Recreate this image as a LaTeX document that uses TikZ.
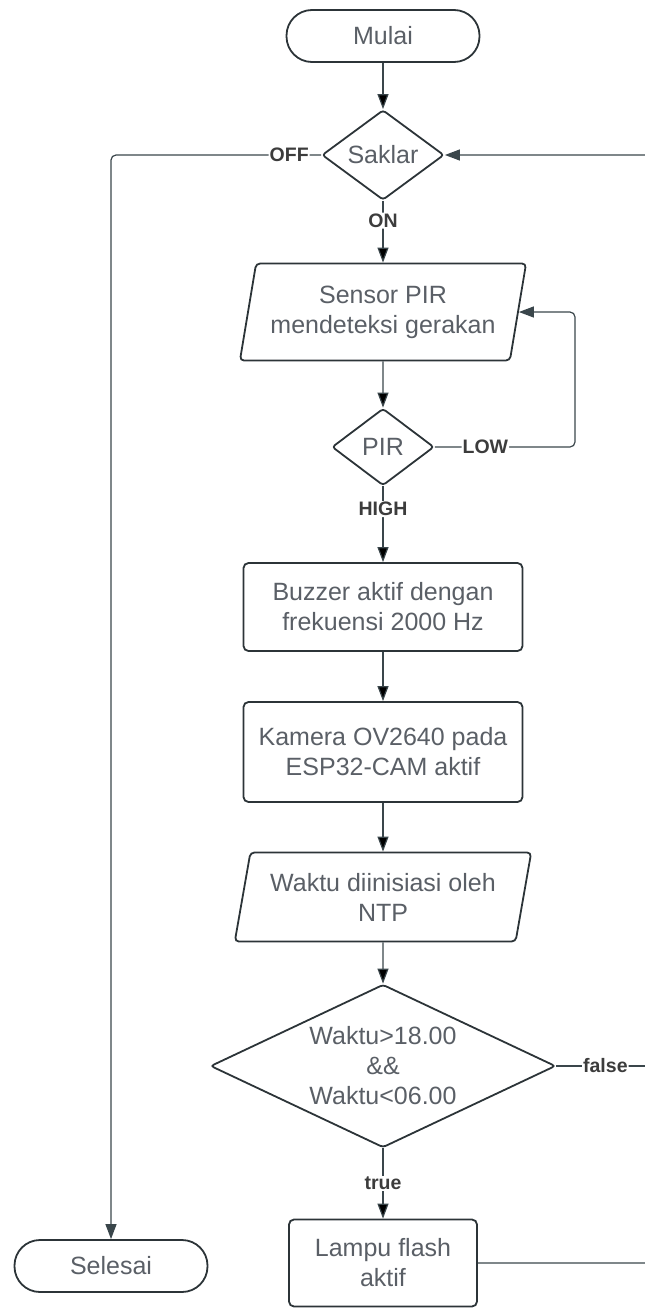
\documentclass[tikz,border=0pt]{standalone}
\usepackage{fontspec}
\setmainfont{Liberation Sans}
\usepackage{tikz}
\usetikzlibrary{arrows.meta,shapes.geometric}
\definecolor{boxline}{HTML}{2C3438}
\definecolor{flowline}{HTML}{3A464B}
\definecolor{boxtext}{HTML}{5A5F66}
\definecolor{lbltext}{HTML}{3C3C3C}

\begin{document}
\begin{tikzpicture}[>={Triangle[length=15pt,width=11pt]},
  every node/.style={font=\fontsize{25}{30}\selectfont,text=boxtext,align=center},
  terminal/.style={draw=boxline,line width=1.8pt,rectangle,rounded corners=25.5pt,minimum width=193pt,minimum height=52pt},
  process/.style={draw=boxline,line width=1.8pt,rectangle,rounded corners=5pt,minimum width=279pt},
  io/.style={draw=boxline,line width=1.8pt,trapezium,trapezium left angle=76,trapezium right angle=104,trapezium stretches=true,rounded corners=4pt},
  decision/.style={draw=boxline,line width=1.8pt,diamond,inner sep=0pt,rounded corners=3pt},
  lbl/.style={fill=white,inner sep=1pt,text=lbltext,font=\bfseries\fontsize{19.5}{22}\selectfont},
  flow/.style={draw=flowline,line width=1.2pt,rounded corners=5pt}]
  \useasboundingbox (0,0) rectangle (645pt,-1309pt);
  \node[terminal] (mulai) at (383pt,-36pt) {Mulai};
  \node[decision,aspect=1.36,minimum width=122pt,minimum height=90pt] (saklar) [node distance=119pt,below of=mulai] {Saklar};
  \node[io,minimum width=287pt,minimum height=97pt] (sensor) [node distance=157pt,below of=saklar] {Sensor PIR\\mendeteksi gerakan};
  \node[decision,aspect=1.32,minimum width=102pt,minimum height=77pt] (pir) [node distance=135pt,below of=sensor] {PIR};
  \node[process,minimum height=88pt] (buzzer) [node distance=160pt,below of=pir] {Buzzer aktif dengan\\frekuensi 2000 Hz};
  \node[process,minimum height=100pt] (kamera) [node distance=145pt,below of=buzzer] {Kamera OV2640 pada\\ESP32-CAM aktif};
  \node[io,minimum width=297pt,minimum height=89pt] (waktu) [node distance=145pt,below of=kamera] {Waktu diinisiasi oleh\\NTP};
  \node[decision,aspect=2.12,minimum width=345pt,minimum height=163pt] (cond) [node distance=169pt,below of=waktu] {Waktu>18.00\\\&\&\\Waktu<06.00};
  \node[process,minimum width=188pt,minimum height=87pt] (lampu) [node distance=197pt,below of=cond] {Lampu flash\\aktif};
  \node[terminal,yshift=-3pt] (selesai) [node distance=272pt,left of=lampu] {Selesai};
  \coordinate[node distance=192pt,right of=pir] (lowturn);
  \coordinate[node distance=290pt,right of=cond] (back);
  \path[flow,->]
    (mulai) edge (saklar)
    (saklar) edge node[lbl,pos=.32]{ON} (sensor)
    (sensor) edge (pir)
    (pir) edge node[lbl,pos=.3]{HIGH} (buzzer)
    (buzzer) edge (kamera)
    (kamera) edge (waktu)
    (waktu) edge (cond)
    (cond) edge node[lbl]{true} (lampu)
  ;
  \draw[flow,->] (saklar.west) -| node[lbl,pos=.076]{OFF} (selesai.north);
  \draw[flow,->] (pir.east) -- node[lbl,pos=.36]{LOW} (lowturn) |- (sensor.east);
  \draw[flow] (cond.east) -- node[lbl,pos=.42]{false} (cond.east -| back);
  \draw[flow,->] (lampu.east) -| (back) |- (saklar.east);
\end{tikzpicture}
\end{document}
